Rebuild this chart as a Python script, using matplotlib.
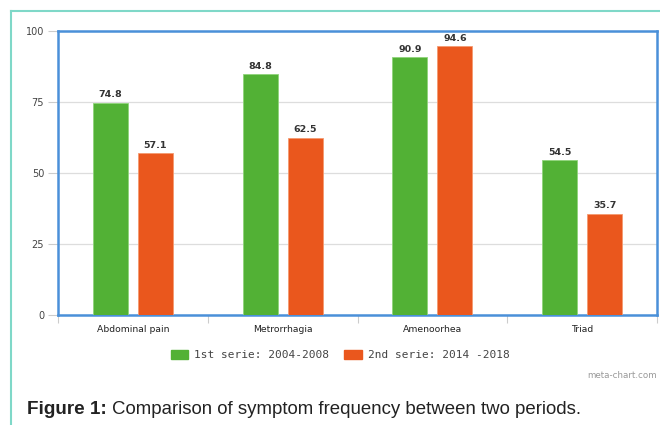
import numpy as np
import matplotlib.pyplot as plt
from matplotlib.lines import Line2D

categories = ["Abdominal pain", "Metrorrhagia", "Amenoorhea", "Triad"]
serie1 = [74.8, 84.8, 90.9, 54.5]
serie2 = [57.1, 62.5, 94.6, 35.7]
labels = ["1st serie: 2004-2008", "2nd serie: 2014 -2018"]

green = "#52b135"
orange = "#ea571d"

fig = plt.figure(figsize=(6.6, 4.25), dpi=100)
ax = fig.add_axes([58/660, 1-315/425, 599/660, 284/425])

x = np.arange(len(categories))
w = 0.233
b1 = ax.bar(x - 0.15, serie1, w, color=green, edgecolor="#8fd47a", linewidth=0.6, zorder=3)
b2 = ax.bar(x + 0.15, serie2, w, color=orange, edgecolor="#f59a70", linewidth=0.6, zorder=3)

for bars, vals in [(b1, serie1), (b2, serie2)]:
    for r, v in zip(bars, vals):
        ax.text(r.get_x() + r.get_width()/2, v + 1.1, f"{v:.1f}", ha="center", va="bottom",
                fontsize=6.8, fontweight="bold", color="#333333")

ax.set_xlim(-0.5, len(categories) - 0.5)
ax.set_ylim(0, 100)
ax.set_yticks([0, 25, 50, 75, 100])
ax.tick_params(axis="y", length=7, color="#cccccc", labelsize=7, labelcolor="#444444", pad=3)
ax.grid(axis="y", color="#dddddd", linewidth=0.9, zorder=0)

# category labels between boundary ticks
ax.set_xticks(np.arange(-0.5, len(categories)), minor=False)
ax.set_xticklabels([])
ax.set_xticks(x, minor=True)
ax.set_xticklabels(categories, minor=True)
ax.tick_params(axis="x", which="major", length=6, color="#cccccc")
ax.tick_params(axis="x", which="minor", length=0, labelsize=6.7, labelcolor="#222222", pad=7)

for s in ax.spines.values():
    s.set_color("#4a90d9")
    s.set_linewidth(1.8)

handles = [plt.Rectangle((0, 0), 1, 1, color=green), plt.Rectangle((0, 0), 1, 1, color=orange)]
fig.legend(handles, labels, loc="center", bbox_to_anchor=(340/660, 1-355/425), ncol=2,
           frameon=False, prop={"family": "DejaVu Sans Mono", "size": 8}, handlelength=1.6,
           handleheight=0.9, columnspacing=1.4, handletextpad=0.5, labelcolor="#444444")

fig.text(657/660, 1-376/425, "meta-chart.com", ha="right", va="center", fontsize=6.3, color="#999999")

# outer teal frame
fig.add_artist(Line2D([11/660, 11/660], [0, 1-11/425], color="#7fd8c8", linewidth=1.5))
fig.add_artist(Line2D([11/660, 1], [1-11/425, 1-11/425], color="#7fd8c8", linewidth=1.5))

fig.text(27/660, 1-409/425, "Figure 1:", fontsize=13.6, fontweight="bold", va="center",
         family="Liberation Sans", color="#222222")
fig.text(112/660, 1-409/425, "Comparison of symptom frequency between two periods.", fontsize=13.4,
         va="center", family="Liberation Sans", color="#222222")

fig.savefig("out.png", dpi=100)
